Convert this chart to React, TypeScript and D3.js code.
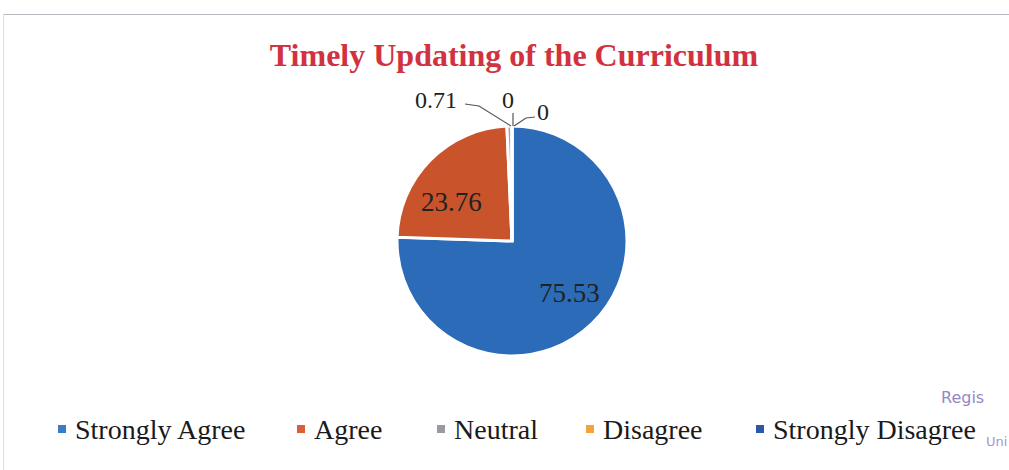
import React from "react";
import * as d3 from "d3";

const categories = ["Strongly Agree", "Agree", "Neutral", "Disagree", "Strongly Disagree"];
const values = [75.53, 23.76, 0.71, 0, 0];
const valueLabels = ["75.53", "23.76", "0.71", "0", "0"];
const colors = ["#2b6bb8", "#c9532b", "#a5a5a5", "#f0a030", "#2a58a6"];
const legendColors = ["#3a7cc8", "#d6603a", "#9a9aa6", "#f2a43a", "#2a58a6"];

const W = 1009;
const H = 470;

export default function App() {
  const cx = 512;
  const cy = 241;
  const r = 115;
  const pie = d3.pie<number>().sort(null).value((d) => d);
  const arcs = pie(values);
  const arcGen = d3.arc<d3.PieArcDatum<number>>().innerRadius(0).outerRadius(r);
  const labelArc = d3.arc<d3.PieArcDatum<number>>().innerRadius(r * 0.68).outerRadius(r * 0.68);

  // label offsets for large slices (relative to centroid)
  const bigOffsets: Record<number, [number, number]> = { 0: [3, 5], 1: [-5, 25] };

  // outside labels for small slices: [text x, baseline y, anchor], leader path
  const outsideLabels: Record<number, { x: number; y: number; anchor: string; leader: [number, number][] }> = {
    2: { x: 457, y: 108, anchor: "end", leader: [[465, 104], [479, 106], [511, 126]] },
    3: { x: 508, y: 108, anchor: "middle", leader: [[513, 113], [513, 126]] },
    4: { x: 537, y: 120, anchor: "start", leader: [[535, 117], [526, 118], [514, 126]] },
  };

  const legendX = [58, 297, 437, 586, 756];
  const legendY = 430;

  return (
    <div style={{ position: "absolute", left: 0, top: 0, width: W, height: H, background: "#fff" }}>
      <svg width={W} height={H} style={{ display: "block" }}>
        <rect x={0} y={0} width={W} height={H} fill="#fff" />
        <line x1={3} y1={14.5} x2={W} y2={14.5} stroke="#b8b8c0" strokeWidth={1.2} />
        <line x1={3.5} y1={14} x2={3.5} y2={H} stroke="#dcdce2" strokeWidth={1} />
        <text
          x={514}
          y={66}
          textAnchor="middle"
          fontFamily="'Liberation Serif', 'Times New Roman', serif"
          fontWeight="bold"
          fontSize={32}
          fill="#d2323f"
        >
          Timely Updating of the Curriculum
        </text>
        <g transform={`translate(${cx},${cy})`}>
          {arcs.map((a, i) => (
            <path key={i} d={arcGen(a) || ""} fill={colors[i]} stroke="#fff" strokeWidth={3} strokeLinejoin="miter" />
          ))}
        </g>
        {arcs.map((a, i) => {
          if (bigOffsets[i]) {
            const [lx, ly] = labelArc.centroid(a);
            const [ox, oy] = bigOffsets[i];
            return (
              <text
                key={"l" + i}
                x={cx + lx + ox}
                y={cy + ly + oy}
                textAnchor="middle"
                fontFamily="'Liberation Serif', 'Times New Roman', serif"
                fontSize={27}
                fill="#222"
              >
                {valueLabels[i]}
              </text>
            );
          }
          const o = outsideLabels[i];
          return (
            <g key={"l" + i}>
              <polyline
                points={o.leader.map((p) => p.join(",")).join(" ")}
                fill="none"
                stroke="#555"
                strokeWidth={1.2}
              />
              <text
                x={o.x}
                y={o.y}
                textAnchor={o.anchor as any}
                fontFamily="'Liberation Serif', 'Times New Roman', serif"
                fontSize={24}
                fill="#222"
              >
                {valueLabels[i]}
              </text>
            </g>
          );
        })}
        {categories.map((c, i) => (
          <g key={"lg" + i}>
            <rect x={legendX[i]} y={legendY - 5} width={8} height={8} fill={legendColors[i]} />
            <text
              x={legendX[i] + 17}
              y={legendY + 9}
              fontFamily="'Liberation Serif', 'Times New Roman', serif"
              fontSize={28}
              fill="#1a1a1a"
            >
              {c}
            </text>
          </g>
        ))}
        <text x={941} y={403} fontFamily="'DejaVu Sans', sans-serif" fontSize={16} fill="#7a6ab8" opacity={0.8}>
          Regis
        </text>
        <text x={986} y={446} fontFamily="'DejaVu Sans', sans-serif" fontSize={13} fill="#7a6ab8" opacity={0.7}>
          Uni
        </text>
      </svg>
    </div>
  );
}
